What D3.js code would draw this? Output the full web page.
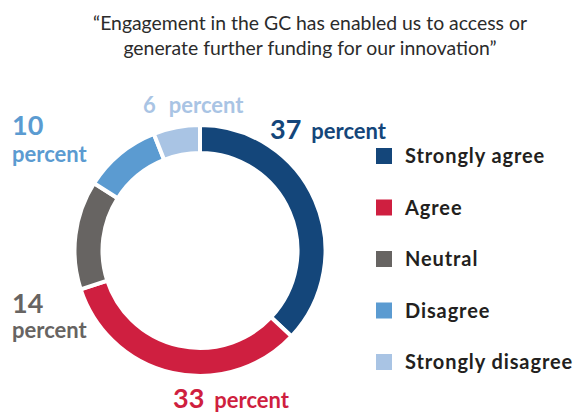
<!DOCTYPE html>
<html><head><meta charset="utf-8">
<script src="https://cdn.jsdelivr.net/npm/d3@7"></script>
<style>
html,body{margin:0;padding:0;background:#fff;}
svg{display:block;font-family:Lato,"Open Sans",sans-serif;}
</style></head>
<body>
<svg id="chart" width="585" height="414"></svg>
<script>
const categories = ["Strongly agree","Agree","Neutral","Disagree","Strongly disagree"];
const values = [37,33,14,10,6];
const colors = ["#14467a","#cf1f40","#676462","#5b9bd1","#a9c4e4"];
const titleLines = ["\u201CEngagement in the GC has enabled us to access or","generate further funding for our innovation\u201D"];
const unitLabel = "percent";

const svg = d3.select("#chart");
const cx = 200, cy = 250.5, rOuter = 125.5, rInner = 97.5;

// title
svg.append("text").attr("text-anchor","middle")
  .attr("fill","#2b2b2b").attr("font-size",19.4)
  .selectAll("tspan").data(titleLines).join("tspan")
  .attr("x",310).attr("y",(d,i)=>30+i*25).text(d=>d);

const pie = d3.pie().sort(null).value(d=>d);
const arcs = pie(values);
const arc = d3.arc().innerRadius(rInner).outerRadius(rOuter);
const g = svg.append("g").attr("transform",`translate(${cx},${cy})`);
g.selectAll("path").data(arcs).join("path")
  .attr("d",arc).attr("fill",(d,i)=>colors[i])
  .attr("stroke","#fff").attr("stroke-width",4).attr("stroke-linejoin","miter");

// label layout
const labelLayout = [
  {x:270,y:139,two:false,size:27,dx:10},
  {x:173,y:408,two:false,size:27,dx:10},
  {x:12,y:313,two:true,size:27,dy:25},
  {x:12,y:135,two:true,size:27,dy:27},
  {x:143,y:113,two:false,size:22,dx:13}
];
labelLayout.forEach((L,i)=>{
  const t = svg.append("text").attr("fill",colors[i]).attr("font-weight",700);
  if(!L.two){
    t.attr("x",L.x).attr("y",L.y);
    t.append("tspan").attr("font-size",L.size).text(values[i]);
    t.append("tspan").attr("font-size",22).attr("dx",L.dx).text(unitLabel);
  } else {
    t.append("tspan").attr("x",L.x).attr("y",L.y).attr("font-size",L.size).text(values[i]);
    t.append("tspan").attr("x",L.x).attr("y",L.y+L.dy).attr("font-size",22).text(unitLabel);
  }
});

// legend
const ly = d3.scalePoint().domain(categories).range([156,362]);
const items = svg.append("g").selectAll("g").data(categories).join("g")
  .attr("transform",d=>`translate(376,${ly(d)})`);
items.append("rect").attr("x",0).attr("y",-8).attr("width",16).attr("height",16)
  .attr("fill",(d,i)=>colors[i]);
items.append("text").attr("x",29).attr("y",7).attr("font-size",20).attr("font-weight",700)
  .attr("letter-spacing",0.9).attr("fill","#231f20").text(d=>d);
</script>
</body></html>
